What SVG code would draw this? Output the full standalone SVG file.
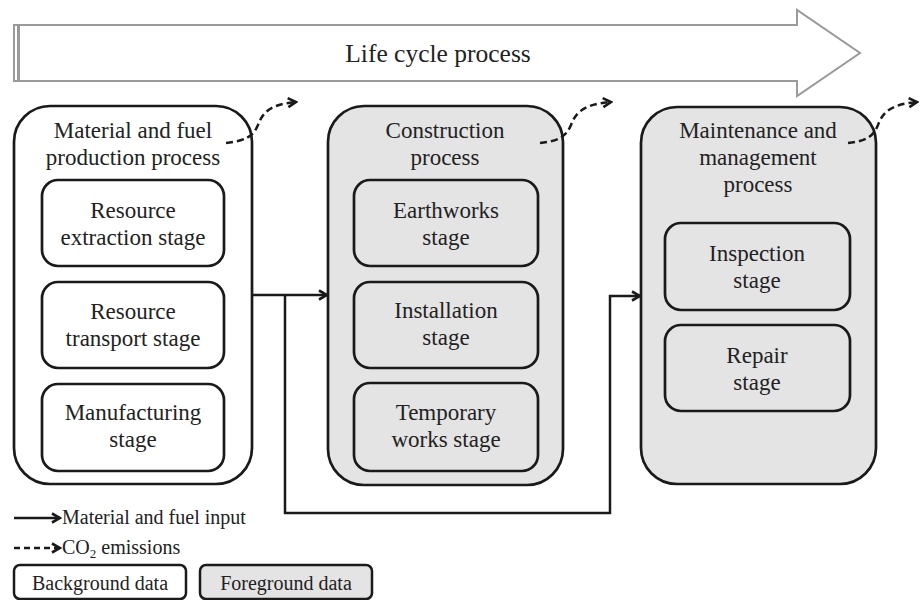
<svg xmlns="http://www.w3.org/2000/svg" width="923" height="600" viewBox="0 0 923 600">
<style>
  text { font-family: "Liberation Serif", "Times New Roman", serif; fill: #222; text-anchor: middle; }
  .t { font-size: 23px; }
  .lg { font-size: 20px; text-anchor: start; }
  .box { stroke: #1a1a1a; stroke-width: 2.7; }
  .bg { fill: #ffffff; }
  .fg { fill: #e4e4e4; }
  .conn { fill: none; stroke: #1a1a1a; stroke-width: 2.5; }
  .dash { fill: none; stroke: #1a1a1a; stroke-width: 2.5; stroke-dasharray: 7 4; }
</style>
<defs>
  <marker id="ah" markerWidth="12" markerHeight="12" refX="10" refY="6" orient="auto" markerUnits="userSpaceOnUse">
    <path d="M2,1.5 L10,6 L2,10.5" fill="none" stroke="#1a1a1a" stroke-width="2.6" stroke-dasharray="none"/>
  </marker>
</defs>
<rect width="923" height="600" fill="#ffffff"/>

<g id="lifecycle">
  <path d="M14,25 L797,25 L797,10 L860,53 L797,96 L797,81 L14,81 Z" fill="#ffffff" stroke="#9a9a9a" stroke-width="2"/>
  <line x1="18.5" y1="25" x2="18.5" y2="81" stroke="#9a9a9a" stroke-width="3"/>
  <text x="438" y="62" style="font-size:25.5px">Life cycle process</text>
</g>

<g id="production">
  <rect class="box bg" x="14" y="106" width="238" height="378" rx="36"/>
  <text class="t" x="133" y="138">Material and fuel</text>
  <text class="t" x="133" y="165">production process</text>
</g>
<g id="extraction">
  <rect class="box bg" x="42" y="180" width="182" height="86" rx="16"/>
  <text class="t" x="133" y="218">Resource</text>
  <text class="t" x="133" y="245">extraction stage</text>
</g>
<g id="transport">
  <rect class="box bg" x="42" y="282" width="182" height="86" rx="16"/>
  <text class="t" x="133" y="319">Resource</text>
  <text class="t" x="133" y="346">transport stage</text>
</g>
<g id="manufacturing">
  <rect class="box bg" x="42" y="384" width="182" height="87" rx="16"/>
  <text class="t" x="133" y="420">Manufacturing</text>
  <text class="t" x="133" y="447">stage</text>
</g>

<g id="construction">
  <rect class="box fg" x="328" y="106" width="235" height="379" rx="36"/>
  <text class="t" x="445" y="138">Construction</text>
  <text class="t" x="445" y="165">process</text>
</g>
<g id="earthworks">
  <rect class="box fg" x="354" y="180" width="184" height="86" rx="16"/>
  <text class="t" x="446" y="218">Earthworks</text>
  <text class="t" x="446" y="245">stage</text>
</g>
<g id="installation">
  <rect class="box fg" x="354" y="282" width="184" height="86" rx="16"/>
  <text class="t" x="446" y="318">Installation</text>
  <text class="t" x="446" y="345">stage</text>
</g>
<g id="temporary">
  <rect class="box fg" x="354" y="383" width="184" height="88" rx="16"/>
  <text class="t" x="446" y="420">Temporary</text>
  <text class="t" x="446" y="447">works stage</text>
</g>

<g id="maintenance">
  <rect class="box fg" x="641" y="107" width="235" height="377" rx="36"/>
  <text class="t" x="758" y="138">Maintenance and</text>
  <text class="t" x="758" y="165">management</text>
  <text class="t" x="758" y="192">process</text>
</g>
<g id="inspection">
  <rect class="box fg" x="665" y="223" width="185" height="87" rx="16"/>
  <text class="t" x="757" y="261">Inspection</text>
  <text class="t" x="757" y="288">stage</text>
</g>
<g id="repair">
  <rect class="box fg" x="665" y="325" width="185" height="86" rx="16"/>
  <text class="t" x="757" y="363">Repair</text>
  <text class="t" x="757" y="390">stage</text>
</g>

<g id="connectors">
  <path class="conn" d="M252,295 L327,295" marker-end="url(#ah)"/>
  <path class="conn" d="M285,295 L285,513 L610,513 L610,296 L640,296" marker-end="url(#ah)"/>
  <path class="dash" d="M226,143 C244,141 253,137 258,125 C263,111 272,104 296,102" marker-end="url(#ah)"/>
  <path class="dash" d="M540,143 C558,141 566,137 571,125 C576,111 586,104 611,102" marker-end="url(#ah)"/>
  <path class="dash" d="M848,143 C866,141 873,137 878,125 C883,111 893,104 917,102" marker-end="url(#ah)"/>
</g>

<g id="legend">
  <path class="conn" d="M14,518 L60,518" marker-end="url(#ah)"/>
  <text class="lg" x="62" y="524">Material and fuel input</text>
  <path class="dash" d="M14,548 L60,548" marker-end="url(#ah)" style="stroke-dasharray:6 4"/>
  <text class="lg" x="62" y="554">CO<tspan font-size="13" dy="4">2</tspan><tspan dy="-4"> emissions</tspan></text>
  <g id="bg-legend">
    <rect class="box bg" x="14" y="565" width="172" height="34" rx="6" style="stroke-width:2.5"/>
    <text x="100" y="590" style="font-size:20px">Background data</text>
  </g>
  <g id="fg-legend">
    <rect class="box fg" x="200" y="565" width="172" height="34" rx="6" style="stroke-width:2.5"/>
    <text x="286" y="590" style="font-size:20px">Foreground data</text>
  </g>
</g>
</svg>
